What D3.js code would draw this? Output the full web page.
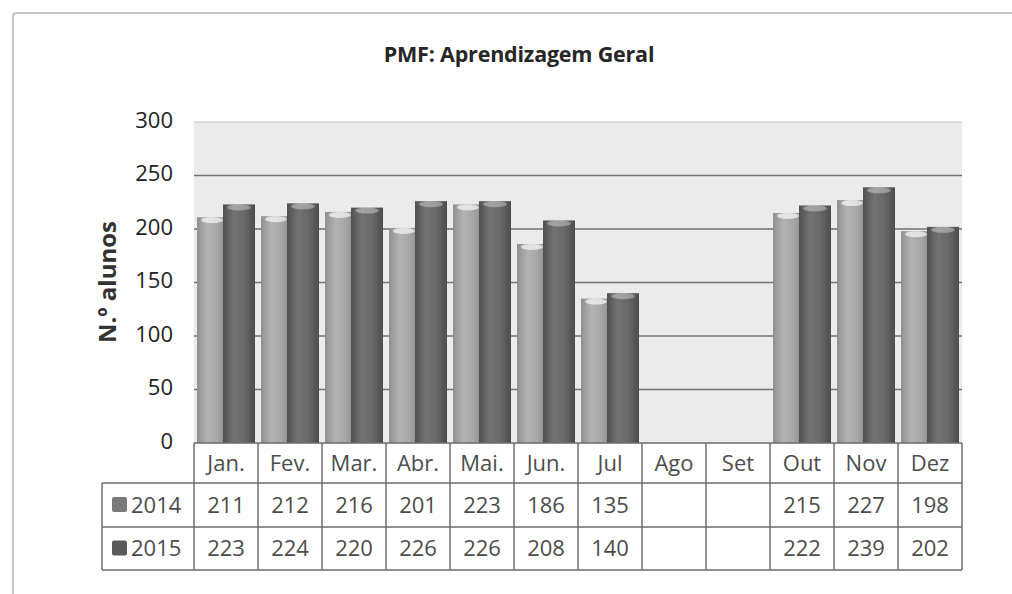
<!DOCTYPE html>
<html>
<head>
<meta charset="utf-8">
<script src="https://cdn.jsdelivr.net/npm/d3@7"></script>
<style>
  body { margin: 0; background: #fff; }
  svg { display: block; font-family: "Open Sans", sans-serif; }
</style>
</head>
<body>
<div id="chart"></div>
<script>
const months = ["Jan.", "Fev.", "Mar.", "Abr.", "Mai.", "Jun.", "Jul", "Ago", "Set", "Out", "Nov", "Dez"];
const years = ["2014", "2015"];
const values2014 = [211, 212, 216, 201, 223, 186, 135, null, null, 215, 227, 198];
const values2015 = [223, 224, 220, 226, 226, 208, 140, null, null, 222, 239, 202];
const yTicks = [0, 50, 100, 150, 200, 250, 300];

const width = 1012, height = 594;
const plot = { left: 194, right: 962, top: 122, bottom: 443 };

const svg = d3.select("#chart").append("svg")
    .attr("width", width)
    .attr("height", height);

// outer chart frame (only top and left edges are in the picture)
svg.append("path")
    .attr("d", "M13,594 L13,16 Q13,13 16,13 L1012,13")
    .attr("fill", "none")
    .attr("stroke", "#b5b5b5")
    .attr("stroke-width", 1.5);

svg.append("text")
    .attr("x", 519)
    .attr("y", 62)
    .attr("text-anchor", "middle")
    .attr("font-size", 21.5)
    .attr("font-weight", 700)
    .attr("fill", "#262626")
    .attr("letter-spacing", -0.2)
    .text("PMF: Aprendizagem Geral");

const x = d3.scaleBand()
    .domain(months)
    .range([plot.left, plot.right])
    .paddingInner(0)
    .paddingOuter(0);

const y = d3.scaleLinear()
    .domain([0, 300])
    .range([plot.bottom, plot.top]);

// gradients for the cylinder-like bars
const defs = svg.append("defs");
const gradStops = {
    "g2014": ["#8f8f8f", "#b3b3b3", "#a5a5a5", "#8a8a8a"],
    "g2015": ["#505050", "#737373", "#666666", "#4c4c4c"]
};
Object.entries(gradStops).forEach(([id, cols]) => {
    const g = defs.append("linearGradient").attr("id", id)
        .attr("x1", "0%").attr("x2", "100%").attr("y1", "0%").attr("y2", "0%");
    [0, 0.35, 0.7, 1].forEach((o, i) => {
        g.append("stop").attr("offset", o).attr("stop-color", cols[i]);
    });
});

// back wall
svg.append("rect")
    .attr("x", plot.left)
    .attr("y", plot.top)
    .attr("width", plot.right - plot.left)
    .attr("height", plot.bottom - plot.top)
    .attr("fill", "#ebebeb");

// gridlines
svg.append("g")
    .selectAll("line")
    .data(yTicks.filter(t => t > 0))
    .join("line")
    .attr("x1", plot.left)
    .attr("x2", plot.right)
    .attr("y1", d => y(d))
    .attr("y2", d => y(d))
    .attr("stroke", d => d === 300 ? "#d4d4d4" : "#727272")
    .attr("stroke-width", 1.5);

// y axis labels
svg.append("g")
    .selectAll("text")
    .data(yTicks)
    .join("text")
    .attr("x", 173)
    .attr("y", d => y(d) - 2)
    .attr("dy", "0.35em")
    .attr("text-anchor", "end")
    .attr("font-size", 22)
    .attr("font-weight", 500)
    .attr("fill", "#222")
    .text(d => d);

svg.append("text")
    .attr("transform", "translate(116,282) rotate(-90)")
    .attr("text-anchor", "middle")
    .attr("font-size", 24)
    .attr("font-weight", 700)
    .attr("fill", "#333")
    .text("N.º alunos");

// bars
const series = [
    { name: "2014", values: values2014, fill: "url(#g2014)", offset: 3, w: 30, cap: 0.65 },
    { name: "2015", values: values2015, fill: "url(#g2015)", offset: 29, w: 32, cap: 0.35 }
];

series.forEach(s => {
    const rows = months.map((m, i) => ({ month: m, value: s.values[i] }))
        .filter(d => d.value !== null);
    const g = svg.append("g").attr("class", "bars-" + s.name);
    g.selectAll("rect")
        .data(rows)
        .join("rect")
        .attr("x", d => x(d.month) + s.offset)
        .attr("y", d => y(d.value))
        .attr("width", s.w)
        .attr("height", d => y(0) - y(d.value))
        .attr("fill", s.fill);
    g.selectAll("ellipse")
        .data(rows)
        .join("ellipse")
        .attr("cx", d => x(d.month) + s.offset + s.w / 2)
        .attr("cy", d => y(d.value) + 3)
        .attr("rx", s.w / 2 - 4)
        .attr("ry", 3)
        .attr("fill", "#fff")
        .attr("opacity", s.cap);
});

// floor edge
svg.append("line")
    .attr("x1", plot.left).attr("x2", plot.right)
    .attr("y1", plot.bottom).attr("y2", plot.bottom)
    .attr("stroke", "#6a6a6a")
    .attr("stroke-width", 1.5);

// data table
const rowY = [443, 483, 527, 570];
const tableLeft = 102;
const tbl = svg.append("g").attr("stroke", "#6e6e6e").attr("stroke-width", 1.5);

// column separators
tbl.selectAll("line.col")
    .data(d3.range(months.length + 1))
    .join("line")
    .attr("class", "col")
    .attr("x1", i => plot.left + i * x.bandwidth())
    .attr("x2", i => plot.left + i * x.bandwidth())
    .attr("y1", rowY[0])
    .attr("y2", rowY[3]);

tbl.selectAll("line.row")
    .data(rowY.slice(1))
    .join("line")
    .attr("class", "row")
    .attr("x1", tableLeft)
    .attr("x2", plot.right)
    .attr("y1", d => d)
    .attr("y2", d => d);

tbl.append("line")
    .attr("x1", tableLeft).attr("x2", tableLeft)
    .attr("y1", rowY[1]).attr("y2", rowY[3]);

const cellText = svg.append("g")
    .attr("font-size", 22)
    .attr("fill", "#4d4d4d")
    .attr("text-anchor", "middle");

cellText.selectAll("text.month")
    .data(months)
    .join("text")
    .attr("class", "month")
    .attr("x", d => x(d) + x.bandwidth() / 2)
    .attr("y", (rowY[0] + rowY[1]) / 2)
    .attr("dy", "0.35em")
    .text(d => d);

series.forEach((s, r) => {
    cellText.selectAll("text.v" + s.name)
        .data(s.values.map((v, i) => ({ month: months[i], value: v })).filter(d => d.value !== null))
        .join("text")
        .attr("class", "v" + s.name)
        .attr("x", d => x(d.month) + x.bandwidth() / 2)
        .attr("y", (rowY[r + 1] + rowY[r + 2]) / 2)
        .attr("dy", "0.35em")
        .text(d => d.value);
});

// legend keys in the table
const keyColors = ["#7a7a7a", "#5a5a5a"];
years.forEach((yr, r) => {
    const cy = (rowY[r + 1] + rowY[r + 2]) / 2;
    svg.append("rect")
        .attr("x", 112)
        .attr("y", cy - 8)
        .attr("width", 15)
        .attr("height", 15)
        .attr("rx", 2)
        .attr("fill", keyColors[r]);
    svg.append("text")
        .attr("x", 131)
        .attr("y", cy)
        .attr("dy", "0.35em")
        .attr("font-size", 22)
        .attr("fill", "#4d4d4d")
        .text(yr);
});
</script>
</body>
</html>
